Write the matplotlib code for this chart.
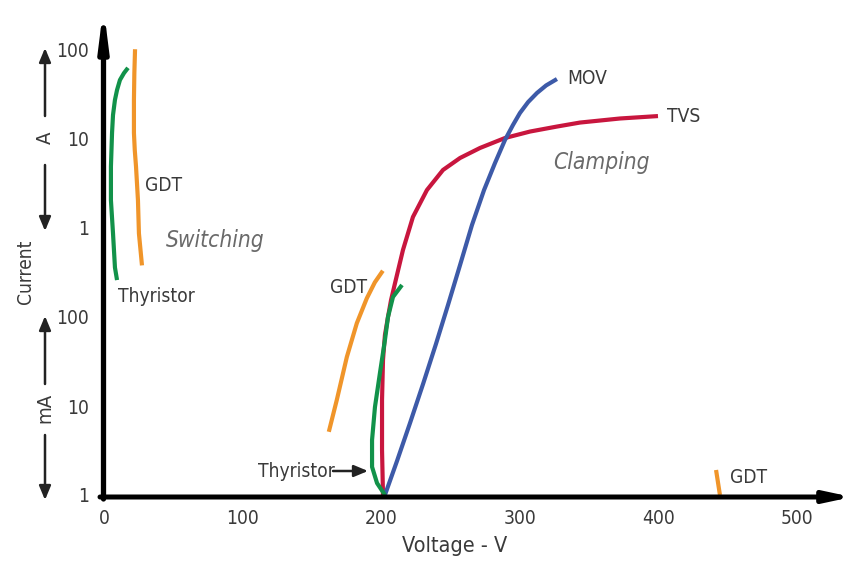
import matplotlib
matplotlib.use("Agg")
import matplotlib.pyplot as plt
from matplotlib import font_manager

# ---------------- data (Voltage in V, Current in A) ----------------
thy_sw_v = [17.3, 14.4, 11.5, 9.4, 7.9, 6.5, 5.8, 5.0, 5.0, 6.5, 7.9, 9.4]
thy_sw_i = [63, 55, 46, 35.5, 27.5, 18.6, 11.7, 4.9, 2.05, 0.87, 0.36, 0.26]

gdt_sw_v = [22.4, 21.9, 21.6, 21.6, 22.2, 23.1, 24.5, 25.2, 27.4]
gdt_sw_i = [102, 55, 27.5, 11.7, 7.5, 4.9, 2.05, 0.87, 0.38]

gdt_mid_v = [162.2, 168.0, 175.2, 182.4, 189.6, 195.4, 201.2]
gdt_mid_i = [0.00513, 0.01175, 0.0355, 0.0851, 0.162, 0.245, 0.331]

thy_mid_v = [215.0, 208.5, 204.9, 202.7, 199.1, 195.5, 193.4, 193.4, 197.0, 202.7]
thy_mid_i = [0.229, 0.168, 0.1, 0.0552, 0.0235, 0.00975, 0.00415, 0.00207, 0.00136, 0.001]

tvs_v = [201.3, 200.6, 200.6, 201.3, 202.7, 204.9, 207.1, 210.0, 215.7, 222.9,
         233.0, 244.6, 256.9, 271.3, 289.3, 307.4, 326.8, 343.4, 372.3, 399.7]
tvs_i = [0.001, 0.00321, 0.01167, 0.0329, 0.0628, 0.1, 0.155, 0.241, 0.566, 1.33,
         2.67, 4.49, 6.12, 7.93, 10.26, 12.13, 13.8, 15.3, 17.0, 18.1]

mov_v = [202.7, 211.4, 220.8, 230.2, 239.5, 248.2, 256.9, 265.5, 274.2, 282.1,
         289.3, 295.0, 300.1, 306.0, 312.4, 319.0, 326.8]
mov_i = [0.001, 0.00241, 0.00644, 0.01767, 0.0497, 0.1364, 0.384, 1.081, 2.67, 5.37,
         9.75, 14.3, 19.6, 26.0, 32.9, 40.0, 47.2]

gdt_hi_v = [441.6, 444.4]
gdt_hi_i = [0.00191, 0.001]

x_ticks = [0, 100, 200, 300, 400, 500]
y_ticks = [1e-3, 1e-2, 1e-1, 1, 10, 100]
y_ticklabels = ['1', '10', '100', '1', '10', '100']

# ---------------- fonts: prefer a narrow sans ----------------
entries = font_manager.fontManager.ttflist
names = {f.name for f in entries}
narrow_stretch = ('condensed', 'semi-condensed', 'extra-condensed', 'ultra-condensed')
FAMILY, STRETCH, SCALE = None, 'normal', 1.0
if 'Liberation Sans Narrow' in names:
    FAMILY = 'Liberation Sans Narrow'
else:
    for pref in ['DejaVu Sans', 'Open Sans', 'Roboto', 'Noto Sans', 'Inter', 'Lato']:
        hit = [f for f in entries if f.name == pref and str(f.stretch) in narrow_stretch
               and f.style == 'normal']
        if hit:
            FAMILY, STRETCH = pref, str(hit[0].stretch)
            SCALE = 0.86
            break
if FAMILY is None:
    FAMILY, SCALE = 'Liberation Sans', 0.86
plt.rcParams['font.family'] = [FAMILY, 'DejaVu Sans']
plt.rcParams['font.stretch'] = STRETCH

def fs(x):
    return x * SCALE

TXT = '#3a3a3a'
GRAY = '#6a6a6a'
GREEN = '#12924a'
ORANGE = '#f0952a'
RED = '#c8163e'
BLUE = '#3d5aa8'

W, H = 852, 562
fig = plt.figure(figsize=(W / 100, H / 100), dpi=100)
ax = fig.add_axes([104 / W, (H - 495) / H, 746 / W, 487 / H])
ax.set_yscale('log')
ax.set_xlim(0, 746 / 1.386)
ax.set_ylim(1e-3, 1e-3 * 10 ** (487 / 89))
for s in ax.spines.values():
    s.set_visible(False)

lw = 3.0
kw = dict(lw=lw, solid_capstyle='butt', solid_joinstyle='round')
ax.plot(thy_sw_v, thy_sw_i, color=GREEN, **kw)
ax.plot(gdt_sw_v, gdt_sw_i, color=ORANGE, **kw)
ax.plot(gdt_mid_v, gdt_mid_i, color=ORANGE, **kw)
ax.plot(tvs_v, tvs_i, color=RED, **kw)
ax.plot(mov_v, mov_i, color=BLUE, **kw)
ax.plot(thy_mid_v, thy_mid_i, color=GREEN, **kw)
ax.plot(gdt_hi_v, gdt_hi_i, color=ORANGE, clip_on=False, **kw)

# ticks
ax.set_xticks(x_ticks)
ax.set_xticklabels([str(t) for t in x_ticks])
ax.set_yticks(y_ticks)
ax.set_yticklabels(y_ticklabels)
ax.minorticks_off()
ax.tick_params(axis='both', length=0, labelsize=fs(16), colors=TXT)
ax.tick_params(axis='x', pad=10)
ax.tick_params(axis='y', pad=11)

def fp(x, y):
    return (x, H - y)

# axis lines with arrows
ax.annotate('', xy=fp(852, 497), xytext=fp(100, 497), xycoords='figure pixels',
            textcoords='figure pixels',
            arrowprops=dict(arrowstyle='-|>,head_length=0.7,head_width=0.15',
                            mutation_scale=22, lw=3.6, color='black',
                            shrinkA=0, shrinkB=0))
ax.annotate('', xy=fp(103.5, 7), xytext=fp(103.5, 499), xycoords='figure pixels',
            textcoords='figure pixels',
            arrowprops=dict(arrowstyle='-|>,head_length=0.95,head_width=0.12',
                            mutation_scale=22, lw=3.8, color='black',
                            shrinkA=0, shrinkB=0))

# unit arrows
def small_arrow(x0, y0, x1, y1):
    ax.annotate('', xy=fp(x1, y1), xytext=fp(x0, y0), xycoords='figure pixels',
                textcoords='figure pixels',
                arrowprops=dict(arrowstyle='-|>,head_length=0.6,head_width=0.25',
                                mutation_scale=14, lw=1.8, color='#222222',
                                shrinkA=0, shrinkB=0))

small_arrow(45, 116, 45, 48)
small_arrow(45, 165, 45, 231)
small_arrow(45, 384, 45, 316)
small_arrow(45, 435, 45, 500)
small_arrow(333, 471, 368, 471)

fig.text(45 / W, (H - 138) / H, 'A', rotation=90, ha='center', va='center',
         fontsize=fs(17), color=TXT)
fig.text(45 / W, (H - 408) / H, 'mA', rotation=90, ha='center', va='center',
         fontsize=fs(17), color=TXT)
fig.text(25 / W, (H - 272) / H, 'Current', rotation=90, ha='center', va='center',
         fontsize=fs(16), color=TXT)
fig.text(455 / W, (H - 546) / H, 'Voltage - V', ha='center', va='center',
         fontsize=fs(18), color=TXT)

# curve labels (data coords)
lab = dict(fontsize=fs(16), color=TXT, va='center', ha='left')
ax.text(29.6, 3.04, 'GDT', **lab)
ax.text(10.1, 0.168, 'Thyristor', **lab)
ax.text(163.0, 0.217, 'GDT', **lab)
ax.text(111.1, 0.00186, 'Thyristor', **lab)
ax.text(334.0, 48.4, 'MOV', **lab)
ax.text(406.2, 18.1, 'TVS', **lab)
ax.text(451.7, 0.00159, 'GDT', **lab)
ax.text(44.4, 0.733, 'Switching', fontsize=fs(19), style='italic', color=GRAY,
        va='center', ha='left')
ax.text(324.0, 5.5, 'Clamping', fontsize=fs(19), style='italic', color=GRAY,
        va='center', ha='left')

fig.savefig('out.png', dpi=100)
